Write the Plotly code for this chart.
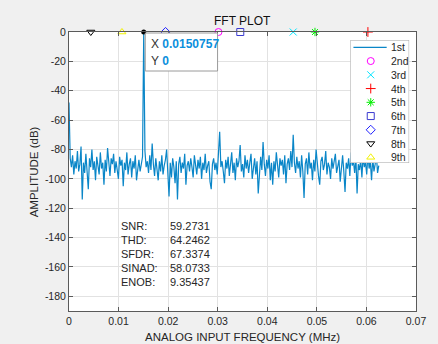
import plotly.graph_objects as go

# ---------------- data ----------------
F0 = 0.0150757            # fundamental frequency (MHz)
FUND_BIN = 62             # spectrum bin index of the fundamental
# amplitude spectrum (dB), one value per bin, DC first
spectrum_db = [
    -48, -86, -92, -84, -97, -88, -93, -81, -95, -90,
    -78, -114, -89, -96, -83, -99, -107, -86, -92, -80,
    -94, -88, -101, -85, -91, -97, -82, -93, -89, -104,
    -87, -95, -79, -92, -98, -86, -90, -83, -96, -88,
    -93, -100, -85, -91, -87, -105, -89, -94, -82, -97,
    -90, -86, -99, -88, -93, -84, -101, -91, -87, -95,
    -89, -85, 0, -81, -92, -88, -96, -84, -94, -76,
    -90, -98, -86, -93, -101, -88, -95, -84, -97, -91,
    -87, -80, -94, -112, -89, -99, -86, -92, -103, -88,
    -114, -90, -85, -96, -89, -93, -83, -104, -91, -88,
    -95, -86, -92, -99, -84, -90, -97, -87, -93, -85,
    -100, -89, -94, -83, -96, -91, -88, -102, -107, -90,
    -86, -94, -89, -97, -84, -68, -92, -88, -95, -103,
    -87, -93, -85, -98, -90, -82, -96, -89, -101, -86,
    -92, -88, -77, -95, -90, -99, -84, -93, -87, -96,
    -89, -83, -100, -91, -86, -97, -88, -110, -92, -85,
    -94, -75, -90, -98, -87, -93, -84, -101, -89, -104,
    -88, -95, -82, -92, -99, -86, -91, -87, -97, -84,
    -103, -90, -86, -94, -81, -92, -70, -89, -96, -85,
    -93, -88, -99, -84, -95, -113, -90, -86, -97, -82,
    -93, -89, -101, -87, -95, -80, -91, -98, -104, -88,
    -85, -94, -90, -81, -97, -89, -92, -100, -86, -93,
    -88, -83, -96, -90, -87, -102, -91, -84, -95, -109,
    -89, -93, -86, -98, -82, -91, -88, -96, -85, -110,
    -90, -94, -87, -99, -84, -92, -89, -97, -83, -93,
    -88, -101, -86, -95, -90, -84, -96, -91,
]
BIN_WIDTH = F0 / FUND_BIN
freqs = [i * BIN_WIDTH for i in range(len(spectrum_db))]

harmonic_names = ["2nd", "3rd", "4th", "5th", "6th", "7th", "8th", "9th"]
harmonic_freqs = [0.03015, 0.04523, 0.06030, 0.04962, 0.03455, 0.01947, 0.00440, 0.01068]
harmonic_db = [0, 0, 0, 0, 0, 0, 0, 0]
harmonic_symbols = ["circle-open", "x-thin-open", "cross-thin-open", "asterisk-open",
                    "square-open", "diamond-open", "triangle-down-open", "triangle-up-open"]
harmonic_colors = ["#ff00ff", "#00e5ff", "#ff0000", "#00ee00",
                   "#3a3ad0", "#2020ff", "#000000", "#f2f200"]

stat_labels = ["SNR:", "THD:", "SFDR:", "SINAD:", "ENOB:"]
stat_values = ["59.2731", "64.2462", "67.3374", "58.0733", "9.35437"]

x_ticks = [0, 0.01, 0.02, 0.03, 0.04, 0.05, 0.06, 0.07]
x_tick_text = ["0", "0.01", "0.02", "0.03", "0.04", "0.05", "0.06", "0.07"]
y_ticks = [0, -20, -40, -60, -80, -100, -120, -140, -160, -180]
y_tick_text = ["0", "-20", "-40", "-60", "-80", "-100", "-120", "-140", "-160", "-180"]

# ---------------- figure ----------------
FONT = "Liberation Sans, Arial, sans-serif"
TXT = "#262626"
AX = "#5a5a5a"
LINE = "#0a86c8"

W, H = 438, 344
L, R, T, B = 69, 14, 32, 33
pw, ph = W - L - R, H - T - B

def px_x(p):
    return (p - L) / pw

def px_y(p):
    return (H - B - p) / ph

fig = go.Figure()
fig.add_trace(go.Scatter(x=freqs, y=spectrum_db, mode="lines",
                         line=dict(color=LINE, width=1.2), showlegend=False,
                         hoverinfo="skip"))
for f, v, s, c in zip(harmonic_freqs, harmonic_db, harmonic_symbols, harmonic_colors):
    fig.add_trace(go.Scatter(x=[f], y=[v], mode="markers", cliponaxis=False,
                             marker=dict(symbol=s, size=7, color=c,
                                         line=dict(color=c, width=1)),
                             showlegend=False, hoverinfo="skip"))
# data tip point
fig.add_trace(go.Scatter(x=[F0], y=[0], mode="markers", cliponaxis=False,
                         marker=dict(symbol="circle", size=5, color="#000000"),
                         showlegend=False, hoverinfo="skip"))

# ----- custom legend on an overlay axis (units = pixels inside legend box)
LEG_X0, LEG_X1, LEG_Y0, LEG_Y1 = 357, 417, 40, 163
lw, lh = LEG_X1 - LEG_X0, LEG_Y1 - LEG_Y0
fig.add_trace(go.Scatter(x=[0, lw, lw, 0, 0], y=[0, 0, lh, lh, 0], xaxis="x2", yaxis="y2",
                         mode="lines", fill="toself", fillcolor="white",
                         line=dict(color="#a0a0a0", width=1), showlegend=False,
                         hoverinfo="skip"))
row0, rowgap = 7.3, 13.75
fig.add_trace(go.Scatter(x=[3, 37], y=[row0, row0], xaxis="x2", yaxis="y2", mode="lines",
                         line=dict(color=LINE, width=1.2), showlegend=False, hoverinfo="skip"))
legend_names = ["1st"] + harmonic_names
for i, (s, c) in enumerate(zip(harmonic_symbols, harmonic_colors)):
    fig.add_trace(go.Scatter(x=[20.7], y=[row0 + rowgap * (i + 1)], xaxis="x2", yaxis="y2",
                             mode="markers", cliponaxis=False,
                             marker=dict(symbol=s, size=7, color=c, line=dict(color=c, width=1)),
                             showlegend=False, hoverinfo="skip"))
annotations = []
for i, name in enumerate(legend_names):
    annotations.append(dict(x=39.5, y=row0 + rowgap * i, xref="x2", yref="y2", text=name,
                            showarrow=False, xanchor="left", yanchor="middle",
                            font=dict(family=FONT, size=10.5, color=TXT)))

# stats text
for i, (lab, val) in enumerate(zip(stat_labels, stat_values)):
    yy = px_y(226 + 14 * i)
    annotations.append(dict(x=px_x(120), y=yy, xref="paper", yref="paper", text=lab,
                            showarrow=False, xanchor="left", yanchor="middle",
                            font=dict(family=FONT, size=11, color=TXT)))
    annotations.append(dict(x=px_x(170.5), y=yy, xref="paper", yref="paper", text=val,
                            showarrow=False, xanchor="left", yanchor="middle",
                            font=dict(family=FONT, size=11, color=TXT)))

# titles
annotations.append(dict(x=0.5, y=px_y(21), xref="paper", yref="paper", text="FFT PLOT",
                        showarrow=False, xanchor="center", yanchor="middle",
                        font=dict(family=FONT, size=12, color="#111111")))
annotations.append(dict(x=0.5, y=px_y(336.5), xref="paper", yref="paper",
                        text="ANALOG INPUT FREQUENCY (MHz)",
                        showarrow=False, xanchor="center", yanchor="middle",
                        font=dict(family=FONT, size=11.5, color=TXT)))
annotations.append(dict(x=px_x(33), y=0.5, xref="paper", yref="paper",
                        text="AMPLITUDE (dB)", textangle=-90,
                        showarrow=False, xanchor="center", yanchor="middle",
                        font=dict(family=FONT, size=11.5, color=TXT)))

# data tip box
TIP_X0, TIP_X1, TIP_Y0, TIP_Y1 = 147, 221, 33, 71
shapes = [dict(type="rect", xref="paper", yref="paper", layer="above",
               x0=px_x(TIP_X0), x1=px_x(TIP_X1), y0=px_y(TIP_Y1), y1=px_y(TIP_Y0),
               fillcolor="white", line=dict(color="#9a9a9a", width=1))]
annotations.append(dict(x=px_x(151), y=px_y(44), xref="paper", yref="paper",
                        text="X <b><span style='color:#0a8fdc'>0.0150757</span></b>",
                        showarrow=False, xanchor="left", yanchor="middle",
                        font=dict(family=FONT, size=12, color="#333333")))
annotations.append(dict(x=px_x(151), y=px_y(61), xref="paper", yref="paper",
                        text="Y <b><span style='color:#0a8fdc'>0</span></b>",
                        showarrow=False, xanchor="left", yanchor="middle",
                        font=dict(family=FONT, size=12, color="#333333")))

fig.update_layout(
    width=W, height=H,
    margin=dict(l=L, r=R, t=T, b=B, pad=0),
    paper_bgcolor="#f0f0f0", plot_bgcolor="white",
    font=dict(family=FONT, size=10.5, color=TXT),
    xaxis=dict(range=[0, 0.07], tickvals=x_ticks, ticktext=x_tick_text,
               showgrid=True, gridcolor="#e2e2e2", gridwidth=1,
               zeroline=False, showline=True, linecolor=AX, linewidth=1, mirror="ticks",
               ticks="inside", ticklen=4, tickcolor=AX, tickfont=dict(size=10.5, color=TXT)),
    yaxis=dict(range=[-190, 0], tickvals=y_ticks, ticktext=y_tick_text,
               showgrid=True, gridcolor="#e2e2e2", gridwidth=1,
               zeroline=False, showline=True, linecolor=AX, linewidth=1, mirror="ticks",
               ticks="inside", ticklen=4, tickcolor=AX, tickfont=dict(size=10.5, color=TXT)),
    xaxis2=dict(domain=[px_x(LEG_X0), px_x(LEG_X1)], range=[0, lw], anchor="y2",
                visible=False, fixedrange=True),
    yaxis2=dict(domain=[px_y(LEG_Y1), px_y(LEG_Y0)], range=[lh, 0], anchor="x2",
                visible=False, fixedrange=True),
    annotations=annotations,
    shapes=shapes,
    showlegend=False,
)

fig.write_html("out.html", config={"displayModeBar": False},
               post_script="document.body.style.margin='0';document.body.style.padding='0';")
